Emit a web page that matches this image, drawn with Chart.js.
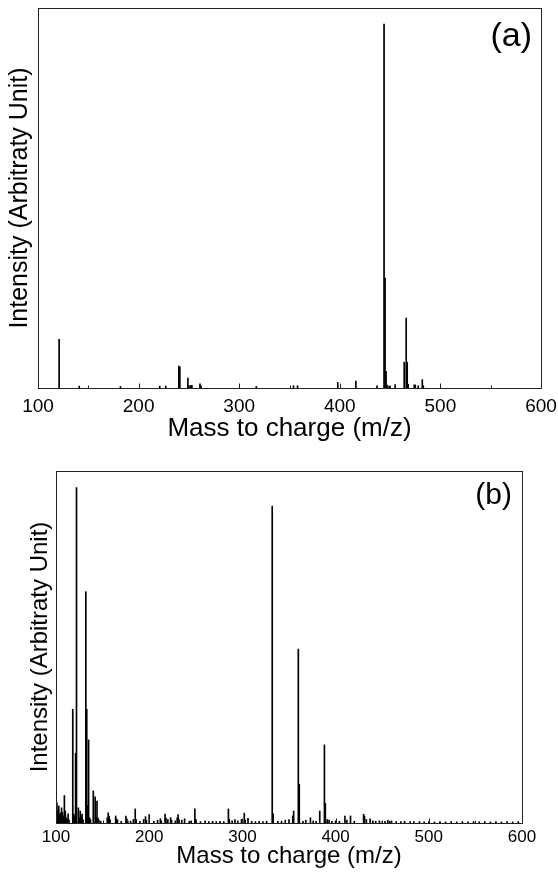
<!DOCTYPE html>
<html>
<head>
<meta charset="utf-8">
<script src="https://cdn.jsdelivr.net/npm/chart.js@4.4.1/dist/chart.umd.min.js"></script>
<style>
  html, body { margin: 0; padding: 0; background: #fff; }
  #wrap { position: relative; width: 558px; height: 878px; }
  canvas { position: absolute; left: 0; }
  #ca { top: 0; }
  #cb { top: 445px; }
</style>
</head>
<body>
<div id="wrap">
  <canvas id="ca" width="558" height="445"></canvas>
  <canvas id="cb" width="558" height="433"></canvas>
</div>
<script>
// ---------- data ----------
const xTickValues = [100, 150, 200, 250, 300, 350, 400, 450, 500, 550, 600];
const xTickLabels = ['100', '200', '300', '400', '500', '600'];
const xTitle = 'Mass to charge (m/z)';
const yTitle = 'Intensity (Arbitraty Unit)';
const panelLabels = ['(a)', '(b)'];

// panel (a): m/z and relative intensity (arbitrary, 0-100 full scale)
const mzA = [121, 141, 182, 221, 227, 240, 241, 249, 250, 252, 253, 261, 262, 317,
  354, 358, 398, 416, 437, 444, 445, 446, 447, 449, 455, 464, 466, 467, 468,
  474, 475, 478, 482, 483];
const intA = [12.8, 0.5, 0.4, 0.5, 0.5, 5.8, 5.6, 2.6, 0.5, 0.7, 0.7, 1.1, 0.6, 0.4,
  0.6, 0.6, 1.5, 1.8, 0.6, 95.8, 28.9, 4.4, 0.8, 0.5, 0.9, 6.8, 18.4, 6.8, 1.0,
  0.8, 0.8, 0.6, 2.2, 0.6];

// panel (b)
const mzB = [100, 101, 102, 103, 104, 105, 106, 107, 108, 109, 110, 111, 112, 113, 114,
  118, 119, 120, 121, 122, 124, 125, 126, 127, 128, 129,
  132, 133, 134, 135, 136, 137, 140, 142, 143, 144, 145, 146, 148,
  155, 156, 157, 158, 164, 165, 166, 170, 175, 176, 177, 180, 183, 185, 186, 190,
  194, 196, 197, 200, 205, 209, 212, 213, 217, 218, 220, 223, 224, 228, 230, 231,
  232, 235, 238, 243, 245, 249, 250, 255, 260, 264, 268, 272, 276, 280, 285, 286,
  289, 292, 295, 299, 302, 303, 306, 310, 314, 318, 322, 326, 332, 333, 338, 342,
  346, 350, 354, 355, 360, 361, 365, 368, 373, 376, 379, 383, 388, 389, 391, 393,
  396, 400, 404, 410, 412, 416, 420, 430, 431, 433, 437, 440, 443, 447, 450, 453,
  456, 458, 460, 465, 470, 474, 480, 484, 490, 495, 500, 506, 512, 518, 524, 530,
  536, 542, 548, 554, 560, 566, 572, 578, 584, 590, 596];
const intB = [3.0, 5.7, 3.5, 4.8, 2.5, 2.9, 4.3, 3.0, 2.0, 7.8, 3.4, 1.5, 1.0, 2.6, 0.8,
  32.3, 2.5, 2.0, 19.8, 95.3, 4.3, 1.5, 3.4, 2.0, 2.5, 1.0,
  65.7, 32.3, 5.0, 23.6, 1.5, 1.0, 9.1, 7.4, 1.5, 6.2, 1.5, 0.8, 0.5,
  1.5, 2.9, 2.0, 1.0, 2.0, 1.2, 0.8, 0.5, 2.0, 1.2, 0.6, 0.5, 1.0, 4.0, 1.0, 0.5,
  1.0, 1.8, 0.8, 2.4, 0.5, 0.8, 1.2, 0.6, 2.5, 1.4, 1.0, 1.5, 0.8, 0.6, 1.5, 2.4,
  1.0, 0.8, 1.2, 0.5, 0.6, 4.0, 1.0, 0.4, 0.6, 0.4, 0.5, 0.4, 0.5, 0.4, 4.0, 1.0,
  0.6, 1.0, 0.6, 1.0, 2.8, 0.8, 1.3, 0.5, 0.4, 0.5, 0.4, 0.5, 90.0, 2.6, 0.5, 0.5,
  0.8, 1.0, 2.0, 3.4, 49.4, 11.0, 0.5, 0.8, 1.5, 0.6, 0.5, 3.4, 22.2, 5.6, 1.0, 0.8,
  0.5, 0.6, 0.5, 2.0, 0.8, 2.0, 0.5, 2.5, 2.0, 1.0, 1.2, 0.6, 0.5, 0.6, 0.4, 0.5,
  0.8, 0.5, 0.6, 0.4, 0.4, 0.5, 0.4, 0.4, 0.4, 0.3, 0.4, 0.3, 0.4, 0.3, 0.4, 0.3,
  0.4, 0.3, 0.4, 0.3, 0.4, 0.3, 0.4, 0.3, 0.4, 0.3, 0.4];

// ---------- drawing ----------
const FONT = "'Liberation Sans', Arial, Helvetica, sans-serif";

const frameTicks = {
  id: 'frameTicks',
  afterDatasetsDraw(chart, args, opts) {
    const { ctx, chartArea: a, scales: { x } } = chart;
    ctx.save();
    ctx.strokeStyle = '#222';
    ctx.lineWidth = 1;
    const l = Math.round(a.left) + 0.5, t = Math.round(a.top) + 0.5;
    const r = Math.round(a.right) + 0.5, b = Math.round(a.bottom) + 0.5;
    ctx.strokeRect(l, t, r - l, b - t);
    ctx.beginPath();
    for (const v of xTickValues) {
      const px = Math.round(x.getPixelForValue(v)) + 0.5;
      const len = v % 100 === 0 ? 5 : 3;
      ctx.moveTo(px, b);
      ctx.lineTo(px, b - len);
    }
    ctx.stroke();
    // panel label
    ctx.fillStyle = '#000';
    ctx.font = opts.labelSize + 'px ' + FONT;
    ctx.textAlign = 'right';
    ctx.textBaseline = 'alphabetic';
    ctx.fillText(opts.label, a.right - opts.labelDx, a.top + opts.labelDy);
    ctx.restore();
  }
};

function makeChart(id, mz, inten, cfg) {
  const pts = mz.map((m, i) => ({ x: m, y: inten[i] }));
  return new Chart(document.getElementById(id), {
    type: 'bar',
    data: {
      datasets: [{
        data: pts,
        backgroundColor: '#000',
        borderWidth: 0,
        barThickness: 1,
        grouped: false
      }]
    },
    plugins: [frameTicks],
    options: {
      responsive: false,
      animation: false,
      events: [],
      layout: { padding: cfg.padding },
      plugins: {
        legend: { display: false },
        tooltip: { enabled: false },
        frameTicks: { label: cfg.label, labelSize: cfg.labelSize, labelDx: cfg.labelDx, labelDy: cfg.labelDy }
      },
      scales: {
        x: {
          type: 'linear',
          offset: false,
          min: 100, max: 600,
          grid: { display: false, drawTicks: false, offset: false },
          border: { display: false },
          ticks: {
            stepSize: 100, autoSkip: false, maxRotation: 0,
            padding: cfg.tickPad, color: '#000',
            font: { family: FONT, size: cfg.tickSize },
            callback: (v) => xTickLabels.includes(String(v)) ? String(v) : ''
          },
          title: {
            display: true, text: xTitle, color: '#000',
            font: { family: FONT, size: cfg.xTitleSize },
            padding: { top: 0, bottom: cfg.xTitleBottom }
          },
          afterFit: (s) => { s.height = cfg.xAxisH; s.paddingLeft = 0; s.paddingRight = 0; }
        },
        y: {
          min: 0, max: 100,
          grid: { display: false, drawTicks: false },
          border: { display: false },
          ticks: { display: false },
          title: {
            display: true, text: yTitle, color: '#000',
            font: { family: FONT, size: cfg.yTitleSize },
            padding: { top: cfg.yTitleTop, bottom: 0 }
          },
          afterFit: (s) => { s.width = cfg.yAxisW; s.paddingTop = 0; s.paddingBottom = 0; }
        }
      }
    }
  });
}

makeChart('ca', mzA, intA, {
  padding: { left: 0, right: 17, top: 8, bottom: 0 },
  yAxisW: 38, xAxisH: 57,
  tickSize: 19, tickPad: 7,
  xTitleSize: 26, xTitleBottom: 1,
  yTitleSize: 25, yTitleTop: 5,
  label: panelLabels[0], labelSize: 34, labelDx: 9, labelDy: 38
});

makeChart('cb', mzB, intB, {
  padding: { left: 0, right: 36, top: 26, bottom: 0 },
  yAxisW: 56, xAxisH: 55,
  tickSize: 17, tickPad: 4,
  xTitleSize: 24, xTitleBottom: 7,
  yTitleSize: 24, yTitleTop: 26,
  label: panelLabels[1], labelSize: 30, labelDx: 10, labelDy: 33
});
</script>
</body>
</html>
